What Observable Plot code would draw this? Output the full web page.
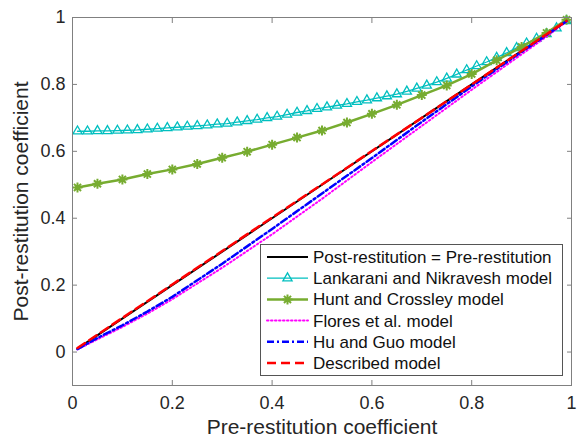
<!DOCTYPE html>
<html>
<head>
<meta charset="utf-8">
<script src="https://cdn.jsdelivr.net/npm/d3@7"></script>
<script src="https://cdn.jsdelivr.net/npm/@observablehq/plot@0.6"></script>
<style>
  html, body { margin: 0; padding: 0; background: #fff; }
  #wrap { position: relative; width: 579px; height: 440px; }
  #legend { position: absolute; left: 260px; top: 244px; }
</style>
</head>
<body>
<div id="wrap"></div>
<script>
// ---- data ----
const xTicks = [0, 0.2, 0.4, 0.6, 0.8, 1];
const yTicks = [0, 0.2, 0.4, 0.6, 0.8, 1];

const seriesNames = [
  "Post-restitution = Pre-restitution",
  "Lankarani and Nikravesh model",
  "Hunt and Crossley model",
  "Flores et al. model",
  "Hu and Guo model",
  "Described model"
];

const refX = [0.01, 0.25, 0.5, 0.75, 0.99];
const refY = [0.01, 0.25, 0.5, 0.75, 0.99];

const lnX = [0.01,0.03,0.05,0.07,0.09,0.11,0.13,0.15,0.17,0.19,0.21,0.23,0.25,0.27,0.29,0.31,0.33,0.35,0.37,0.39,
             0.41,0.43,0.45,0.47,0.49,0.51,0.53,0.55,0.57,0.59,0.61,0.63,0.65,0.67,0.69,0.71,0.73,0.75,0.77,0.79,
             0.81,0.83,0.85,0.87,0.89,0.91,0.93,0.95,0.97,0.99];
const lnY = [0.660,0.660,0.661,0.661,0.662,0.663,0.664,0.666,0.668,0.670,0.672,0.674,0.676,0.678,0.681,0.683,0.687,0.691,0.695,0.700,
             0.704,0.710,0.716,0.721,0.727,0.732,0.737,0.742,0.748,0.753,0.759,0.765,0.771,0.779,0.788,0.797,0.807,0.818,0.830,0.843,
             0.855,0.867,0.880,0.894,0.909,0.923,0.937,0.951,0.968,0.990];

const hcX = [0.01,0.05,0.10,0.15,0.20,0.25,0.30,0.35,0.40,0.45,0.50,0.55,0.60,0.65,0.70,0.75,0.80,0.85,0.90,0.95,0.99];
const hcY = [0.492,0.503,0.516,0.532,0.546,0.562,0.581,0.599,0.620,0.641,0.662,0.686,0.712,0.739,0.768,0.797,0.831,0.872,0.912,0.954,0.993];

const modelX  = [0.01,0.05,0.10,0.15,0.20,0.30,0.40,0.50,0.60,0.70,0.80,0.90,0.95,0.99];
const floresY = [0.008,0.038,0.075,0.115,0.158,0.252,0.352,0.458,0.568,0.676,0.784,0.890,0.943,0.988];
const huGuoY  = [0.009,0.042,0.080,0.121,0.165,0.264,0.368,0.474,0.580,0.688,0.794,0.897,0.948,0.989];
const descrY  = [0.012,0.052,0.102,0.152,0.202,0.302,0.402,0.501,0.601,0.700,0.800,0.900,0.950,0.990];

// ---- styles ----
const FONT = "'Liberation Sans', Arial, Helvetica, sans-serif";
// MATLAB-like '*' marker: horizontal, vertical and two diagonal strokes
const star8 = {
  draw(ctx, size) {
    const r = Math.sqrt(size / Math.PI), d = r * Math.SQRT1_2;
    ctx.moveTo(-r, 0); ctx.lineTo(r, 0);
    ctx.moveTo(0, -r); ctx.lineTo(0, r);
    ctx.moveTo(-d, -d); ctx.lineTo(d, d);
    ctx.moveTo(-d, d); ctx.lineTo(d, -d);
  }
};
const styles = [
  {stroke: "#000000", strokeWidth: 2},
  {stroke: "#00BFBF", strokeWidth: 1.3, symbol: "triangle"},
  {stroke: "#77AC30", strokeWidth: 2.5, symbol: "star"},
  {stroke: "#FF00FF", strokeWidth: 2, strokeDasharray: "1.5,2.5"},
  {stroke: "#0000FF", strokeWidth: 2.5, strokeDasharray: "7,3,2,3"},
  {stroke: "#FF0000", strokeWidth: 2.5, strokeDasharray: "9,5"}
];

const toRows = (xs, ys) => xs.map((x, i) => ({x, y: ys[i]}));
const ref = toRows(refX, refY);
const ln = toRows(lnX, lnY);
const hc = toRows(hcX, hcY);
const flores = toRows(modelX, floresY);
const huguo = toRows(modelX, huGuoY);
const descr = toRows(modelX, descrY);

const AX = "#808080";
const fmt = d => String(d);

const chart = Plot.plot({
  width: 579,
  height: 440,
  marginLeft: 72,
  marginRight: 8,
  marginTop: 17,
  marginBottom: 55,
  x: {domain: [0, 1]},
  y: {domain: [-0.1, 1]},
  style: {fontFamily: FONT, fontSize: "18px", background: "#fff", color: "#262626", overflow: "visible"},
  marks: [
    Plot.line(ref, {x: "x", y: "y", stroke: styles[0].stroke, strokeWidth: styles[0].strokeWidth}),
    Plot.line(ln, {x: "x", y: "y", stroke: styles[1].stroke, strokeWidth: styles[1].strokeWidth}),
    Plot.dot(ln, {x: "x", y: "y", symbol: "triangle", r: 3.4, stroke: styles[1].stroke, fill: "none", strokeWidth: 1.3}),
    Plot.line(hc, {x: "x", y: "y", stroke: styles[2].stroke, strokeWidth: styles[2].strokeWidth}),
    Plot.dot(hc, {x: "x", y: "y", symbol: star8, r: 5, stroke: styles[2].stroke, strokeWidth: 2}),
    Plot.line(flores, {x: "x", y: "y", stroke: styles[3].stroke, strokeWidth: styles[3].strokeWidth, strokeDasharray: styles[3].strokeDasharray, strokeLinecap: "round"}),
    Plot.line(huguo, {x: "x", y: "y", stroke: styles[4].stroke, strokeWidth: styles[4].strokeWidth, strokeDasharray: styles[4].strokeDasharray}),
    Plot.line(descr, {x: "x", y: "y", stroke: styles[5].stroke, strokeWidth: styles[5].strokeWidth, strokeDasharray: styles[5].strokeDasharray}),
    Plot.frame({stroke: AX}),
    Plot.axisX({ticks: xTicks, tickSize: -5, tickPadding: 16, tickFormat: fmt, stroke: AX, fill: "#262626",
                label: "Pre-restitution coefficient", labelAnchor: "center", labelArrow: "none", labelOffset: 48, fontSize: 18}),
    Plot.axisX({anchor: "top", ticks: xTicks, tickSize: -5, tickFormat: () => "", stroke: AX, label: null}),
    Plot.axisY({ticks: yTicks, tickSize: -5, tickPadding: 12, tickFormat: fmt, stroke: AX, fill: "#262626",
                label: "Post-restitution coefficient", labelAnchor: "center", labelArrow: "none", labelOffset: 59, fontSize: 18}),
    Plot.axisY({anchor: "right", ticks: yTicks, tickSize: -5, tickFormat: () => "", stroke: AX, label: null})
  ]
});

// axis labels: larger size, no arrows
d3.select(chart).selectAll("g[aria-label='x-axis label'] text, g[aria-label='y-axis label'] text")
  .style("font-size", "21px")
  .each(function() { this.textContent = this.textContent.replace(/\s*[→↑←↓]\s*/g, "").trim(); });

const wrap = document.getElementById("wrap");
wrap.appendChild(chart);

// ---- legend (inside the axes, drawn as its own small SVG) ----
const LW = 303, LH = 132, rowH = 21.2, row0 = 13;
const leg = d3.select(wrap).append("svg")
  .attr("id", "legend")
  .attr("width", LW).attr("height", LH)
  .style("font-family", FONT);
leg.append("rect").attr("x", 0.5).attr("y", 0.5).attr("width", LW - 1).attr("height", LH - 1)
  .attr("fill", "#fff").attr("stroke", "#555").attr("stroke-width", 1);
seriesNames.forEach((name, i) => {
  const s = styles[i];
  const cy = row0 + i * rowH;
  leg.append("line").attr("x1", 7).attr("x2", 48).attr("y1", cy).attr("y2", cy)
    .attr("stroke", s.stroke).attr("stroke-width", s.strokeWidth)
    .attr("stroke-dasharray", s.strokeDasharray || null)
    .attr("stroke-linecap", i === 3 ? "round" : "butt");
  if (s.symbol === "triangle") {
    leg.append("path").attr("d", d3.symbol(d3.symbolTriangle, Math.PI * 3.4 * 3.4)())
      .attr("transform", `translate(27.5,${cy})`).attr("fill", "none").attr("stroke", s.stroke).attr("stroke-width", 1.3);
  } else if (s.symbol === "star") {
    leg.append("path").attr("d", d3.symbol(star8, Math.PI * 5 * 5)())
      .attr("transform", `translate(27.5,${cy})`).attr("fill", "none").attr("stroke", s.stroke).attr("stroke-width", 2);
  }
  leg.append("text").attr("x", 53).attr("y", cy).attr("dy", "0.35em")
    .attr("font-size", 17).attr("fill", "#111").text(name);
});
</script>
</body>
</html>
